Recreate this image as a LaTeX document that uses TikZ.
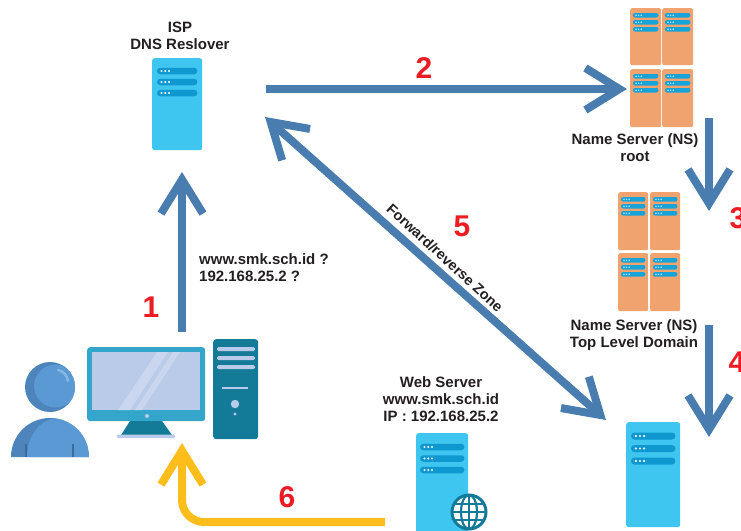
\documentclass[tikz,border=0pt]{standalone}
\usepackage{fontspec}
\setmainfont{Liberation Sans}
\usetikzlibrary{arrows.meta,calc}

\definecolor{flowblue}{HTML}{4A7DAF}
\definecolor{srvblue}{HTML}{3EC5F0}
\definecolor{barblue}{HTML}{0E98CF}
\definecolor{nsorange}{HTML}{F1A36F}
\definecolor{nsbar}{HTML}{16A3DA}
\definecolor{nsdot}{HTML}{BDE6F8}
\definecolor{numred}{HTML}{EC1C24}
\definecolor{backyellow}{HTML}{FDBE1B}
\definecolor{monframe}{HTML}{35A6CB}
\definecolor{screenblue}{HTML}{B9CBE8}
\definecolor{glare}{HTML}{C9D6EE}
\definecolor{pcteal}{HTML}{137A98}
\definecolor{userblue}{HTML}{5A99D4}
\definecolor{userdark}{HTML}{4C84BB}
\definecolor{userline}{HTML}{3D6C9B}
\definecolor{userlight}{HTML}{86B7E4}
\definecolor{ink}{HTML}{231F20}

% three status bars with dots, measured from the top of a rack node
\newcommand\rackbars[6]{% node, first offset, spacing, inset, bar height, dot radius
  \foreach \i in {0,1,2}{%
    \fill[barblue, rounded corners=#5*0.5pt]
      ($(#1.north west)+(#4,#2+#3*\i-#5/2)$) rectangle ($(#1.north east)+(-#4,#2+#3*\i+#5/2)$);
    \foreach \d in {0,1,2}
      \fill[white] ($(#1.north west)+(#4+#5*0.7+#6*3.4*\d,#2+#3*\i)$) circle (#6);
  }}
\newcommand\nsbars[1]{%
  \foreach \i in {0,1,2}{%
    \fill[nsbar, rounded corners=2pt]
      ($(#1.north west)+(3,5+7*\i)$) rectangle ($(#1.north east)+(-3,9.5+7*\i)$);
    \foreach \d in {0,1,2}
      \fill[nsdot] ($(#1.north west)+(6+2.6*\d,7.25+7*\i)$) circle (0.8);
  }}

\begin{document}
\begin{tikzpicture}[x=1pt,y=-1pt,
  flow/.style={draw=flowblue, line width=8pt,
    -{Straight Barb[length=34pt,width=42pt,sharp]}},
  twoway/.style={draw=flowblue, line width=8pt,
    {Straight Barb[length=34pt,width=42pt,sharp]}-{Straight Barb[length=34pt,width=42pt,sharp]}},
  reply/.style={draw=backyellow, line width=8pt, rounded corners=22pt,
    -{Straight Barb[length=34pt,width=42pt,sharp]}},
  numlabel/.style={text=numred, font=\bfseries\fontsize{30}{30}\selectfont, inner sep=0pt},
  caption/.style={text=ink, font=\bfseries\fontsize{15}{17}\selectfont, align=center, inner sep=0pt},
  rack/.style={fill=srvblue, rounded corners=2.5pt, inner sep=0pt, anchor=north west},
  nsbox/.style={fill=nsorange, rounded corners=2pt, inner sep=0pt, anchor=north west,
    minimum width=31pt},
  pcpart/.style={inner sep=0pt, anchor=north west}]

\useasboundingbox (0,0) rectangle (741,530);

% ---------- ISP resolver ----------
\node[caption] (isplabel) at (180,36) {ISP\\DNS Reslover};
\node[rack, minimum width=50pt, minimum height=92pt] (isp) at (152,58) {};
\rackbars{isp}{13}{11}{5}{6.5}{1.1}

% ---------- root name server ----------
\node[nsbox, minimum height=57pt] (roota) at (630,8) {};
\node[nsbox, minimum height=57pt] (rootb) at (662,8) {};
\node[nsbox, minimum height=58pt] (rootc) at (630,69) {};
\node[nsbox, minimum height=58pt] (rootd) at (662,69) {};
\foreach \n in {roota,rootb,rootc,rootd} {\nsbars{\n}}
\node[caption] (rootlabel) at (635,148) {Name Server (NS)\\root};

% ---------- TLD name server ----------
\node[nsbox, minimum width=30pt, minimum height=58pt] (tlda) at (618,192) {};
\node[nsbox, minimum width=30pt, minimum height=58pt] (tldb) at (650,192) {};
\node[nsbox, minimum width=30pt, minimum height=58pt] (tldc) at (618,253) {};
\node[nsbox, minimum width=30pt, minimum height=58pt] (tldd) at (650,253) {};
\foreach \n in {tlda,tldb,tldc,tldd} {\nsbars{\n}}
\node[caption] (tldlabel) at (634,335) {Name Server (NS)\\Top Level Domain};

% ---------- authoritative server ----------
\node[rack, minimum width=54pt, minimum height=105pt] (auth) at (626,422) {};
\rackbars{auth}{14}{12.5}{5}{7}{1.2}

% ---------- web server ----------
\node[caption] (weblabel) at (441,399) {Web Server\\www.smk.sch.id\\IP : 192.168.25.2};
\node[rack, minimum width=52pt, minimum height=105pt] (web) at (416,433) {};
\rackbars{web}{14}{11.5}{4}{6.5}{1.1}
\node[circle, fill=white, draw=pcteal, line width=3pt, minimum size=34pt, inner sep=0pt]
  (globe) at (469,512) {};
\begin{scope}
  \clip (globe.center) circle (16);
  \draw[pcteal, line width=2.2pt] (globe.center) ellipse [x radius=8, y radius=17];
  \draw[pcteal, line width=2.2pt] (globe.north) -- (globe.south);
  \draw[pcteal, line width=2.2pt] (globe.west) -- (globe.east);
  \draw[pcteal, line width=2.2pt] ($(globe.west)+(0,-8)$) -- ($(globe.east)+(0,-8)$);
  \draw[pcteal, line width=2.2pt] ($(globe.west)+(0,8)$) -- ($(globe.east)+(0,8)$);
\end{scope}

% ---------- user ----------
\begin{scope}
  \fill[userdark] (50,387) circle (25);
  \clip (50,387) circle (25);
  \fill[userblue] (55.5,386) circle (21.5);
\end{scope}
\draw[userlight, line width=2.5pt, line cap=round]
  (58,370) .. controls (63,371) and (67,375) .. (68,381);
\begin{scope}
  \fill[userdark] (11,457) arc[start angle=180, end angle=360, radius=39] -- cycle;
  \clip (11,457) arc[start angle=180, end angle=360, radius=39] -- cycle;
  \fill[userblue] (58,457) ellipse [x radius=31, y radius=39];
\end{scope}
\draw[userline, line width=1.5pt] (26,444) -- (26,457);
\draw[userline, line width=1.5pt] (73,444) -- (73,457);

% ---------- desktop computer ----------
\node[pcpart, fill=monframe, rounded corners=3pt, minimum width=118pt, minimum height=74pt]
  (monitor) at (87,347) {};
\fill[screenblue] (92,352) rectangle (200,410);
\fill[glare] (118,410) -- (130,410) -- (168,352) -- (157,352) -- cycle;
\fill[glare] (135,410) -- (142,410) -- (180,352) -- (173,352) -- cycle;
\fill[screenblue] (147,416) circle (2);
\fill[pcteal] (130,421) -- (162,421) -- (172,435) -- (121,435) -- cycle;
\fill[screenblue, rounded corners=1pt] (117,434.5) rectangle (175,438);
\node[pcpart, fill=pcteal, rounded corners=3pt, minimum width=45pt, minimum height=100pt]
  (tower) at (213,339) {};
\foreach \y in {347,356,365}
  \fill[screenblue, rounded corners=1.5pt] (217,\y) rectangle (255,\y+4);
\fill[screenblue] (222,387.3) rectangle (248,389);
\fill[screenblue] (235,404) circle (4.2);
\fill[screenblue] (235,414) circle (1.6);

% ---------- connector end points ----------
\coordinate (q1from) at (182,332);
\coordinate (q1to)   at (182,172);
\coordinate (q2from) at (266,89);
\coordinate (q2to)   at (627,89);
\coordinate (q3from) at (709,118);
\coordinate (q3to)   at (709,211);
\coordinate (q4from) at (709,325);
\coordinate (q4to)   at (709,437);
\coordinate (zoneA)  at (265,117);
\coordinate (zoneB)  at (606,420);
\coordinate (ansfrom) at (385,522);
\coordinate (anscorner) at (182,522);
\coordinate (ansto)  at (182,443);

% ---------- connectors ----------
\draw[flow] (q1from) -- (q1to);
\draw[flow] (q2from) -- (q2to);
\draw[flow] (q3from) -- (q3to);
\draw[flow] (q4from) -- (q4to);
\draw[twoway] (zoneA) -- (zoneB);
\draw[reply] (ansfrom) -- (anscorner) -- (ansto);

% ---------- labels ----------
\node[caption, align=left, anchor=west] (query) at (199,268) {www.smk.sch.id ?\\192.168.25.2 ?};
\node[caption, font=\bfseries\fontsize{14.5}{17}\selectfont, rotate=-42.5] (zonelabel)
  at (445,258) {Forward/reverse Zone};
\node[numlabel] (n1) at (151,307) {1};
\node[numlabel] (n2) at (424,68) {2};
\node[numlabel] (n3) at (738,218) {3};
\node[numlabel] (n4) at (737,362) {4};
\node[numlabel] (n5) at (462,226) {5};
\node[numlabel] (n6) at (287,497) {6};
\end{tikzpicture}
\end{document}
